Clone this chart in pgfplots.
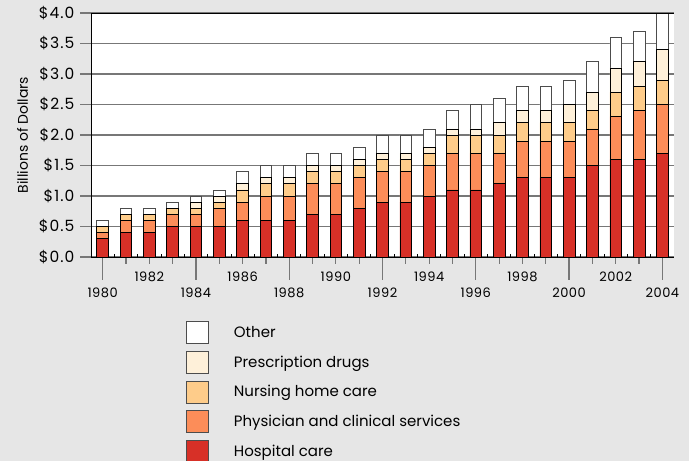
\documentclass[border=0pt]{standalone}
\usepackage{fontspec}
\setmainfont{Poppins}
\newfontfamily\tickfont{Poppins}[LetterSpace=7]
\newfontfamily\xtickfont{Poppins}[LetterSpace=4]
\usepackage{pgfplots}
\usepackage{pgfplotstable}
\pgfplotsset{compat=1.18}
\definecolor{bg}{HTML}{E6E6E6}
\definecolor{hosp}{HTML}{D73027}
\definecolor{phys}{HTML}{FC8D59}
\definecolor{nurs}{HTML}{FECC8A}
\definecolor{drug}{HTML}{FEF0D9}
\definecolor{gridc}{HTML}{777777}
\pgfplotstableread{
year hosp phys nurs drug other
1980 0.3 0.1 0.1 0.0 0.1
1981 0.4 0.2 0.1 0.0 0.1
1982 0.4 0.2 0.1 0.0 0.1
1983 0.5 0.2 0.1 0.0 0.1
1984 0.5 0.2 0.1 0.1 0.1
1985 0.5 0.3 0.1 0.1 0.1
1986 0.6 0.3 0.2 0.1 0.2
1987 0.6 0.4 0.2 0.1 0.2
1988 0.6 0.4 0.2 0.1 0.2
1989 0.7 0.5 0.2 0.1 0.2
1990 0.7 0.5 0.2 0.1 0.2
1991 0.8 0.5 0.2 0.1 0.2
1992 0.9 0.5 0.2 0.1 0.3
1993 0.9 0.5 0.2 0.1 0.3
1994 1.0 0.5 0.2 0.1 0.3
1995 1.1 0.6 0.3 0.1 0.3
1996 1.1 0.6 0.3 0.1 0.4
1997 1.2 0.5 0.3 0.2 0.4
1998 1.3 0.6 0.3 0.2 0.4
1999 1.3 0.6 0.3 0.2 0.4
2000 1.3 0.6 0.3 0.3 0.4
2001 1.5 0.6 0.3 0.3 0.5
2002 1.6 0.7 0.4 0.4 0.5
2003 1.6 0.8 0.4 0.4 0.5
2004 1.7 0.8 0.4 0.5 0.6
}\data
\pgfplotsset{
  legsq/.style={legend image code/.code={\draw[##1,line width=0.7pt,draw=black!70] (0pt,-11pt) rectangle (22pt,11pt);}},
  frame/.style={at={(91pt,204pt)}, anchor=south west,
    scale only axis, width=583pt, height=244pt,
    xmin=1979.5, xmax=2004.5, ymin=0, ymax=4},
  xonly/.style={frame, axis y line=none, axis x line*=bottom,
    axis line style={black, line width=0.8pt},
    tick align=outside, ytick=\empty,
    x tick style={gridc, line width=1.2pt},
    xticklabel style={font=\xtickfont\fontsize{13}{15}\selectfont, /pgf/number format/1000 sep={}, yshift=-4pt},
    /pgf/number format/assume math mode=true},
}
\begin{document}
\begin{tikzpicture}
\path[use as bounding box, fill=bg] (0pt,0pt) rectangle (689pt,461pt);
\begin{axis}[
  frame,
  ybar stacked, bar width=0.5,
  axis x line*=bottom, axis y line*=left,
  axis line style={black, line width=0.8pt},
  axis background/.style={fill=white},
  ymajorgrids, grid style={gridc, line width=1.3pt},
  tick align=outside, major tick length=11pt,
  xtick=\empty,
  ytick={0,0.5,...,4},
  yticklabel={{\kern1pt\$}\pgfmathprintnumber[fixed,fixed zerofill,precision=1]{\tick}},
  y tick style={gridc, line width=1.3pt},
  yticklabel style={font=\tickfont\fontsize{15.5}{17}\selectfont, xshift=-2pt},
  /pgf/number format/assume math mode=true,
  ylabel={Billions of Dollars},
  ylabel style={font=\fontsize{14}{16}\selectfont, at={(axis description cs:-0.102,0.5)}, anchor=south},
  after end axis/.code={\draw[black, line width=0.8pt] (rel axis cs:0,1) -- (rel axis cs:1,1);},
  reverse legend,
  legend style={at={(0.163,-0.262)}, anchor=north west, draw=none, fill=none, inner sep=0pt,
    row sep=7pt, font=\fontsize{15}{18}\selectfont, cells={anchor=west},
    /tikz/every odd column/.append style={column sep=23pt}},
]
\addplot[fill=hosp, draw=black, line width=0.7pt, legsq] table[x=year,y=hosp]{\data};
\addlegendentry{Hospital care}
\addplot[fill=phys, draw=black, line width=0.7pt, legsq] table[x=year,y=phys]{\data};
\addlegendentry{Physician and clinical services}
\addplot[fill=nurs, draw=black, line width=0.7pt, legsq] table[x=year,y=nurs]{\data};
\addlegendentry{Nursing home care}
\addplot[fill=drug, draw=black, line width=0.7pt, legsq] table[x=year,y=drug]{\data};
\addlegendentry{Prescription drugs}
\addplot[fill=white, draw=black!70, line width=0.7pt, legsq] table[x=year,y=other]{\data};
\addlegendentry{Other}
\end{axis}
\begin{axis}[xonly,
  major tick length=23pt, minor tick length=7pt,
  xtick={1980,1984,...,2004},
  minor xtick={1981,1982,1983,1985,1986,1987,1989,1990,1991,1993,1994,1995,1997,1998,1999,2001,2002,2003},
]
\end{axis}
\begin{axis}[xonly,
  major tick length=7pt,
  xtick={1982,1986,...,2002},
]
\end{axis}
\begin{axis}[frame, axis y line=none, axis x line*=bottom,
  axis line style={black, line width=0.8pt},
  tick align=inside, major tick length=2.5pt, ytick=\empty,
  x tick style={black, line width=0.8pt},
  xtick={1980.5,1981.5,...,2003.5}, xticklabels={},
]
\end{axis}
\end{tikzpicture}
\end{document}
